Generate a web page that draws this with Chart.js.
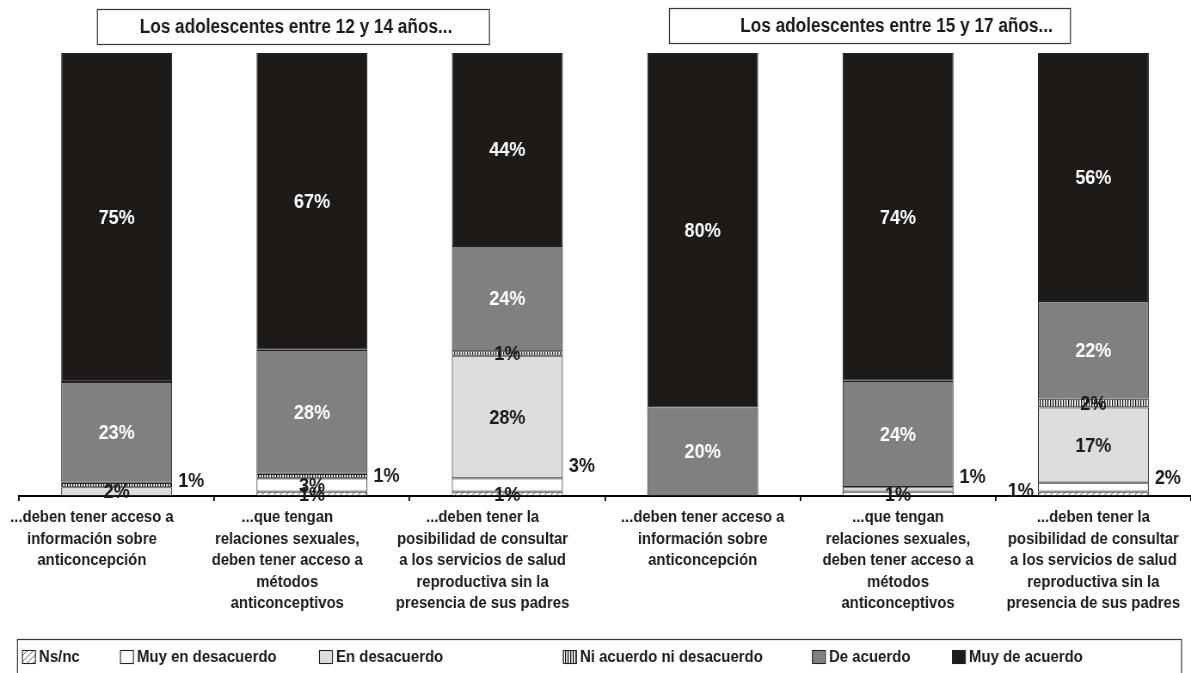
<!DOCTYPE html>
<html><head><meta charset="utf-8">
<script src="https://cdn.jsdelivr.net/npm/chart.js@4/dist/chart.umd.min.js"></script>
<style>html,body{margin:0;padding:0;background:#fff;overflow:hidden;}#c{display:block;width:1191px;height:673px;}</style>
</head><body><canvas id="c" width="1385" height="673" style="width:1191px;height:673px"></canvas>
<script>
// ---------- DATA ----------
const categories = [
  ["...deben tener acceso a","información sobre","anticoncepción"],
  ["...que tengan","relaciones sexuales,","deben tener acceso a","métodos","anticonceptivos"],
  ["...deben tener la","posibilidad de consultar","a los servicios de salud","reproductiva sin la","presencia de sus padres"],
  ["...deben tener acceso a","información sobre","anticoncepción"],
  ["...que tengan","relaciones sexuales,","deben tener acceso a","métodos","anticonceptivos"],
  ["...deben tener la","posibilidad de consultar","a los servicios de salud","reproductiva sin la","presencia de sus padres"]
];
const groupTitles = ["Los adolescentes entre 12 y 14 años...","Los adolescentes entre 15 y 17 años..."];
const seriesNames = ["Ns/nc","Muy en desacuerdo","En desacuerdo","Ni acuerdo ni desacuerdo","De acuerdo","Muy de acuerdo"];
const nsnc          = [0, 1, 1, 0, 0, 1];
const muyDesacuerdo = [0, 3, 3, 0, 1, 2];
const enDesacuerdo  = [2, 0, 28, 0, 1, 17];
const niAcuerdo     = [1, 1, 1, 0, 0, 2];
const deAcuerdo     = [23, 28, 24, 20, 24, 22];
const muyAcuerdo    = [75, 67, 44, 80, 74, 56];
const seriesValues = [nsnc, muyDesacuerdo, enDesacuerdo, niAcuerdo, deAcuerdo, muyAcuerdo];

// placement for small-segment labels drawn beside the bar: "datasetIndex-barIndex": [side, dy]
const outsideLabels = {"3-0":["right",-4],"3-1":["right",0],"1-2":["right",-19],"2-4":["right",-12],"1-5":["right",-9],"0-5":["left",-3]};

// ---------- STYLE ----------
// the canvas is drawn wider and shown horizontally condensed (narrow-font look of the original)
const F = 1191/1385;
const X = v => v / F;
const FONT = "'Liberation Sans', Arial, sans-serif";
const TXT = "#1a1a1a";
// in the original the category texts of the first group sit left of their bars
const LEFT_GROUP_PAD = "            ";
function drawText(ctx,text,x,y,size,align,color){
  ctx.save();
  ctx.font="bold "+size+"px "+FONT;ctx.textAlign=align;ctx.textBaseline='middle';ctx.fillStyle=color;
  ctx.fillText(text,x,y);
  ctx.restore();
}
function hatchPattern(){
  const c=document.createElement('canvas');c.width=7;c.height=6;const g=c.getContext('2d');
  g.fillStyle='#fff';g.fillRect(0,0,7,6);g.strokeStyle='#666';g.lineWidth=1;
  g.beginPath();g.moveTo(0,6);g.lineTo(7,0);g.moveTo(-7,6);g.lineTo(0,0);g.moveTo(7,6);g.lineTo(14,0);g.stroke();
  return g.createPattern(c,'repeat');
}
function stripePattern(){
  const c=document.createElement('canvas');c.width=3;c.height=3;const g=c.getContext('2d');
  g.fillStyle='#fff';g.fillRect(0,0,3,3);g.fillStyle='#111';g.fillRect(0,0,1.3,3);
  return g.createPattern(c,'repeat');
}
const fills = [hatchPattern(), '#ffffff', '#dcdcdc', stripePattern(), '#808080', '#1e1a18'];
const labelColors = [TXT, TXT, TXT, TXT, '#ffffff', '#ffffff'];

const totals = categories.map((_,i)=>seriesValues.reduce((s,a)=>s+a[i],0));
const datasets = seriesNames.map((name,k)=>({
  label:name,
  data: seriesValues[k].map((v,i)=> v>0 ? v/totals[i]*100 : null),
  raw: seriesValues[k],
  backgroundColor: fills[k],
  borderColor:'#222',
  borderWidth:1.1,
  borderSkipped:false,
  categoryPercentage:1,
  barPercentage:0.568
}));

const decorPlugin = {
  id:'decor',
  afterDatasetsDraw(chart){
    const ctx=chart.ctx;
    chart.data.datasets.forEach((ds,k)=>{
      const meta=chart.getDatasetMeta(k);
      meta.data.forEach((el,i)=>{
        const v=ds.raw[i]; if(!v) return;
        const cy=(el.y+el.base)/2;
        const key=k+'-'+i;
        if(outsideLabels[key]){
          const [side,dy]=outsideLabels[key];
          if(side==='right') drawText(ctx,v+'%',el.x+el.width/2+X(6),cy+dy,21,'left',TXT);
          else drawText(ctx,v+'%',el.x-el.width/2-X(4),cy+dy,21,'right',TXT);
        } else {
          drawText(ctx,v+'%',el.x,cy+1,21,'center',labelColors[k]);
        }
      });
    });
  },
  afterDraw(chart){
    const ctx=chart.ctx;
    ctx.save();
    const boxes=[[97,9,392,35,3],[669,8,401,35,27]];
    boxes.forEach((b,i)=>{
      const x0=X(b[0]), w=X(b[2]);
      ctx.fillStyle='#fff';ctx.fillRect(x0,b[1],w,b[3]);
      ctx.strokeStyle='#333';ctx.lineWidth=1.2;ctx.strokeRect(x0+0.5,b[1]+0.5,w,b[3]);
      drawText(ctx,groupTitles[i],x0+w/2+X(b[4]),b[1]+b[3]/2+1,20,'center',TXT);
    });
    ctx.lineWidth=1.2;ctx.strokeRect(X(17.5),639.5,X(1164),45);
    const xs=[22,120,319,563,812,952];
    chart.data.datasets.forEach((ds,k)=>{
      const x=X(xs[k]), y=650, w=X(13);
      ctx.fillStyle=ds.backgroundColor;ctx.fillRect(x,y,w,13);
      ctx.strokeStyle='#222';ctx.lineWidth=1.1;ctx.strokeRect(x+0.5,y+0.5,w,13);
      drawText(ctx,ds.label,x+w+X(4),y+7,17.4,'left',TXT);
    });
    ctx.restore();
  }
};

new Chart(document.getElementById('c'),{
  type:'bar',
  data:{labels:categories,datasets},
  options:{
    responsive:false,animation:false,devicePixelRatio:1,
    layout:{padding:{left:X(19),right:0,top:53,bottom:0}},
    plugins:{legend:{display:false},tooltip:{enabled:false},title:{display:false}},
    scales:{
      x:{stacked:true,
        grid:{offset:true,drawOnChartArea:false,drawTicks:true,tickLength:5,color:'#000',lineWidth:1.8},
        border:{display:true,color:'#000',width:2},
        ticks:{color:TXT,font:{family:FONT,size:17.3,weight:'bold',lineHeight:1.24},padding:6,maxRotation:0,autoSkip:false,
          callback(value,index){
            const lines=this.getLabelForValue(value);
            return index<3 ? lines.map(l=>l+LEFT_GROUP_PAD) : lines;
          }},
        afterFit(s){s.height=177;}
      },
      y:{stacked:true,min:0,max:100,display:false}
    }
  },
  plugins:[decorPlugin]
});
</script></body></html>
